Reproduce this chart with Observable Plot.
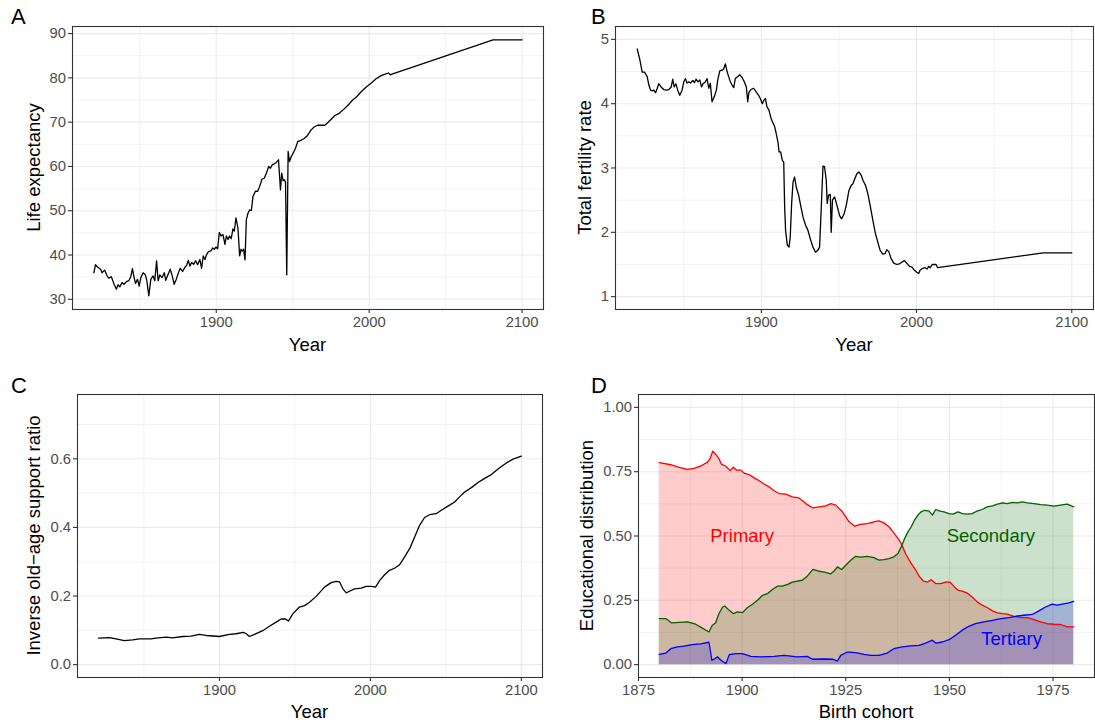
<!DOCTYPE html>
<html>
<head>
<meta charset="utf-8">
<script src="https://cdn.jsdelivr.net/npm/d3@7"></script>
<script src="https://cdn.jsdelivr.net/npm/@observablehq/plot@0.6"></script>
<style>
  body { margin: 0; background: white; }
  #root { position: relative; width: 1095px; height: 723px; overflow: hidden; background: white;
          font-family: "Liberation Sans", Arial, sans-serif; }
  #root svg.panel { position: absolute; }
  #overlay { position: absolute; left: 0; top: 0; pointer-events: none; }
</style>
</head>
<body>
<div id="root"></div>
<script>
// ---------- Panel A: life expectancy ----------
const leYears = [1820,1821,1822.7,1824.4,1825.3,1827,1828.6,1829.7,1831.4,1833.2,1834.7,1835.8,1836.9,1838.4,1839.7,1841.3,1842.8,1844.1,1845.2,1846.3,1847.2,1848.5,1849.6,1850.7,1852.2,1853.7,1854.6,1855.9,1857.2,1858.7,1859.8,1861,1862,1863.1,1864.6,1866,1867,1868.6,1869.9,1871.2,1872.5,1873.8,1875.1,1876.4,1878,1879.5,1880.8,1881.7,1882.8,1883.9,1885.2,1886.5,1887.8,1889.3,1890.4,1891.5,1892.6,1893.7,1894.8,1896.6,1897.7,1898.7,1899.8,1900.9,1902,1903.1,1904.4,1905.7,1906.6,1907.7,1908.7,1909.8,1910.9,1911.8,1912.9,1914.2,1915.3,1916.2,1917,1917.9,1918.8,1919.7,1920.8,1921.9,1923,1924,1925.6,1927.1,1928.4,1929.9,1931.5,1932.8,1934.3,1935.4,1936.7,1938,1939.3,1940.7,1942,1942.8,1943.7,1944.6,1945.3,1946.1,1947,1947.9,1949,1950.3,1951.8,1953.3,1955.3,1957.5,1959.7,1961.9,1964,1966.2,1968.4,1971,1973.2,1975,1977.6,1980.4,1983.7,1986.6,1989.2,1992,1994.6,1997.9,2001.2,2004.5,2007.8,2011,2012.6,2013.9,2015.4,2081,2100];
const leValues = [36.0,37.8,37.2,36.8,36.0,36.6,35.3,34.8,35.1,33.4,32.3,33.3,32.8,33.8,33.4,34.0,34.2,35.1,36.9,34.9,33.6,34.5,33.0,34.9,36.0,35.5,34.2,30.8,34.5,35.3,34.2,38.7,34.2,35.5,34.9,36.0,34.3,35.7,36.8,35.3,33.4,34.5,35.8,37.0,36.3,37.2,37.8,38.8,37.5,38.3,37.9,38.7,37.8,39.0,37.0,39.8,39.0,40.1,40.7,41.0,41.6,41.3,41.8,41.4,45.1,44.3,44.6,42.4,44.3,43.5,44.3,43.7,45.9,45.4,48.4,46.1,39.8,41.3,40.9,41.3,38.9,48.0,49.5,50.2,50.1,53.2,54.4,54.4,55.5,57.1,57.4,58.5,60.0,59.6,60.4,60.6,60.9,61.5,54.7,58.5,56.8,57.0,56.5,35.5,63.4,61.1,62.2,63.0,64.1,65.6,65.9,66.3,67.0,68.2,68.9,69.3,69.3,69.3,70.0,70.6,71.5,72.0,73.0,74.0,75.0,75.8,76.8,77.9,78.8,79.8,80.5,80.9,81.1,80.7,80.9,88.6,88.6];

// ---------- Panel B: total fertility rate ----------
const tfrYears = [1820,1821.7,1823.2,1824.7,1826.4,1827.5,1828.6,1829.7,1830.7,1831.8,1832.9,1833.9,1835.4,1837.1,1838.9,1840.4,1841.9,1842.9,1843.8,1844.9,1846.1,1847.4,1848.9,1850,1851.1,1852.1,1853.2,1854.3,1855.8,1856.9,1857.9,1859.2,1860.3,1861.4,1862.4,1863.9,1865,1866.1,1867.1,1868.2,1869.7,1871,1871.9,1873.2,1874.7,1875.7,1876.8,1877.9,1878.9,1880,1881.1,1882.2,1883.2,1884.7,1886,1887.5,1889,1890.3,1891.2,1892,1893.3,1895,1896.7,1898.2,1899.3,1900.6,1901.5,1902.6,1903.6,1904.9,1906,1907.1,1908.6,1909.6,1910.7,1911.4,1912.4,1913.5,1914.4,1915,1915.6,1916.7,1917.8,1918.6,1919.5,1920.4,1921.4,1922.5,1924,1925.3,1926.8,1928.5,1930,1931.5,1933.2,1934.9,1936.4,1937.5,1938.6,1939.7,1940.7,1941.8,1942.4,1943.3,1944.4,1945,1945.8,1947.2,1948.7,1950.4,1951.7,1953.2,1954.7,1956.4,1957.9,1958.9,1960,1961.5,1962.8,1964.3,1965.4,1967.1,1968.6,1970.3,1971.8,1973.5,1975,1976.5,1978.2,1979.7,1980.8,1982.1,1983.6,1985.3,1987.2,1989,1990.7,1992.2,1993.7,1995.4,1997.1,1998.6,2000.1,2001.4,2002.2,2004,2005.5,2006.8,2007.8,2008.9,2010,2011.4,2012.5,2013.6,2081.6,2100];
const tfrValues = [4.85,4.68,4.49,4.49,4.42,4.29,4.21,4.20,4.21,4.17,4.24,4.31,4.26,4.22,4.21,4.22,4.26,4.38,4.26,4.31,4.21,4.13,4.21,4.34,4.39,4.32,4.34,4.32,4.36,4.33,4.38,4.34,4.37,4.26,4.31,4.34,4.39,4.24,4.32,4.03,4.11,4.21,4.37,4.51,4.52,4.54,4.62,4.50,4.42,4.34,4.29,4.25,4.39,4.42,4.45,4.41,4.34,4.26,4.03,4.18,4.22,4.24,4.18,4.13,4.08,4.00,4.05,4.08,3.95,3.90,3.79,3.72,3.64,3.53,3.40,3.25,3.25,3.12,3.09,2.39,2.03,1.80,1.77,1.93,2.45,2.78,2.86,2.70,2.58,2.42,2.24,2.11,2.03,1.90,1.77,1.69,1.72,1.77,2.39,3.03,3.02,2.81,2.45,2.58,2.59,2.00,2.50,2.55,2.42,2.26,2.21,2.28,2.42,2.65,2.73,2.75,2.82,2.91,2.94,2.89,2.81,2.73,2.60,2.39,2.19,1.98,1.85,1.72,1.66,1.67,1.73,1.70,1.59,1.52,1.50,1.51,1.54,1.56,1.52,1.47,1.46,1.41,1.38,1.36,1.41,1.44,1.45,1.43,1.47,1.45,1.50,1.50,1.50,1.45,1.68,1.68];

// ---------- Panel C: inverse old-age support ratio ----------
const oasYears = [1820,1827.1,1831.5,1837,1842.5,1847,1854.7,1858,1864.6,1869,1875.7,1881.2,1886.7,1891.2,1900,1906.6,1911,1915.9,1917.7,1919.9,1923.2,1928.7,1933.1,1937.6,1940.9,1943.8,1945.7,1948.6,1953,1956.4,1959.7,1964.1,1969.6,1974,1977.3,1979.6,1981.8,1984,1986.2,1989.5,1993.9,1997.2,2000.6,2003.4,2006.1,2009.4,2012.7,2016,2019.3,2022.7,2026,2029.3,2032.6,2035.9,2039.2,2043.6,2047,2051.4,2055.8,2059.1,2062.4,2066.9,2071.3,2075.7,2080.1,2085.6,2090.1,2094.5,2100];
const oasValues = [0.077,0.079,0.075,0.070,0.072,0.075,0.075,0.077,0.080,0.078,0.082,0.083,0.088,0.085,0.082,0.088,0.090,0.094,0.090,0.082,0.088,0.099,0.112,0.124,0.133,0.133,0.127,0.148,0.168,0.172,0.182,0.199,0.226,0.239,0.243,0.241,0.221,0.209,0.214,0.221,0.223,0.228,0.228,0.226,0.245,0.262,0.275,0.281,0.291,0.314,0.338,0.372,0.406,0.429,0.437,0.440,0.450,0.462,0.474,0.489,0.503,0.516,0.531,0.543,0.554,0.574,0.588,0.599,0.608];

// ---------- Panel D: educational distribution by birth cohort ----------
const primYears = [1880,1882.8,1884.8,1886.8,1888.4,1890,1891.6,1892.3,1892.9,1893.6,1894.4,1895,1896,1897.1,1897.9,1898.7,1899.7,1900.6,1901.7,1902.9,1904.1,1905.3,1906.5,1907.7,1908.9,1910.5,1912.1,1913.7,1915.4,1917,1918.6,1920.2,1921.4,1922.6,1924.2,1925.8,1927.2,1928.5,1930.2,1931.8,1933,1934.2,1935.4,1936.6,1937.8,1938.6,1939.4,1940.3,1941.1,1941.9,1942.7,1943.7,1944.7,1945.6,1946.7,1947.9,1949.1,1950.1,1951.1,1952.1,1953.1,1954.3,1955.5,1956.7,1957.9,1959.1,1960.4,1961.6,1962.8,1964,1965.6,1967.2,1968.8,1970.4,1972,1973.6,1975.2,1976.8,1978.4,1980];
const primValues = [0.785,0.777,0.767,0.759,0.763,0.772,0.786,0.801,0.830,0.818,0.801,0.779,0.772,0.754,0.767,0.756,0.756,0.743,0.739,0.726,0.715,0.702,0.691,0.676,0.665,0.663,0.652,0.648,0.626,0.609,0.613,0.617,0.626,0.620,0.594,0.555,0.538,0.545,0.548,0.555,0.559,0.551,0.536,0.512,0.486,0.464,0.432,0.406,0.386,0.367,0.344,0.325,0.321,0.330,0.315,0.315,0.321,0.321,0.304,0.289,0.286,0.278,0.263,0.244,0.231,0.222,0.209,0.201,0.198,0.196,0.188,0.183,0.183,0.175,0.166,0.159,0.157,0.156,0.147,0.147];
const secYears = [1880,1881.6,1883,1884.8,1886.8,1888.8,1890.4,1892,1892.8,1893.6,1894.4,1895.3,1895.8,1896.9,1897.9,1898.9,1900.1,1901.3,1902.5,1903.7,1904.9,1906.1,1907.3,1908.5,1909.7,1911,1912.1,1913.3,1914.5,1915.7,1917.1,1918.3,1919.8,1921.4,1922.2,1923,1924,1925,1926.2,1927.4,1928.6,1930.2,1931.8,1933,1934.2,1935.4,1936.6,1937.6,1938.4,1939.2,1940,1940.8,1941.6,1942.4,1943.2,1944,1945.1,1945.9,1946.7,1947.7,1948.7,1949.9,1950.9,1952.1,1953.1,1954.3,1955.5,1956.7,1957.9,1959.1,1960.4,1961.6,1962.8,1964,1965.2,1966.4,1967.6,1968.8,1970.4,1972,1973.6,1975.2,1976.8,1978.4,1980];
const secValues = [0.179,0.179,0.162,0.164,0.166,0.157,0.142,0.127,0.153,0.162,0.198,0.224,0.228,0.211,0.198,0.205,0.202,0.222,0.235,0.250,0.269,0.276,0.292,0.305,0.305,0.312,0.321,0.325,0.328,0.344,0.370,0.364,0.360,0.353,0.364,0.380,0.370,0.386,0.406,0.421,0.418,0.421,0.416,0.406,0.408,0.412,0.419,0.432,0.458,0.490,0.516,0.536,0.562,0.581,0.594,0.600,0.597,0.581,0.603,0.597,0.594,0.587,0.585,0.594,0.587,0.585,0.587,0.597,0.603,0.613,0.617,0.624,0.629,0.626,0.631,0.629,0.633,0.629,0.626,0.622,0.620,0.616,0.620,0.624,0.613];
const terYears = [1880,1881.6,1882.8,1884.4,1886,1888,1890,1892,1892.7,1893.4,1894.1,1894.9,1896.1,1896.9,1898.5,1900.1,1902.1,1904.5,1907.7,1910.1,1913.3,1915.7,1917,1919.8,1921.8,1923,1923.8,1925.4,1927.4,1929.4,1931,1933,1935,1936.6,1938.6,1940.7,1942.7,1944.3,1945.9,1946.7,1948.3,1949.9,1951.5,1953.1,1954.7,1956.3,1958.3,1960.4,1962.4,1964.4,1966,1968,1970,1971.6,1973.2,1974.8,1976,1977.2,1978.8,1980];
const terValues = [0.040,0.045,0.062,0.069,0.072,0.078,0.081,0.087,0.017,0.023,0.030,0.017,0.004,0.039,0.043,0.043,0.032,0.030,0.032,0.036,0.030,0.032,0.021,0.022,0.021,0.014,0.036,0.049,0.047,0.040,0.036,0.036,0.045,0.062,0.069,0.073,0.075,0.084,0.095,0.084,0.088,0.097,0.114,0.134,0.149,0.159,0.166,0.172,0.179,0.183,0.188,0.192,0.195,0.209,0.224,0.235,0.231,0.235,0.240,0.246];

const eduNames = ["Primary", "Secondary", "Tertiary"];
const eduColors = ["#FF0000", "#006400", "#0000FF"];
const eduLabelX = [1900, 1960, 1965];
const eduLabelY = [0.5, 0.5, 0.1];

// ---------- Ticks & titles ----------
const yearMajor = [1900, 2000, 2100];
const yearMinor = [1850, 1950, 2050];
const leMajor = [30, 40, 50, 60, 70, 80, 90];
const leMinor = [35, 45, 55, 65, 75, 85];
const tfrMajor = [1, 2, 3, 4, 5];
const tfrMinor = [1.5, 2.5, 3.5, 4.5];
const oasMajor = [0, 0.2, 0.4, 0.6];
const oasMinor = [0.1, 0.3, 0.5, 0.7];
const cohortMajor = [1875, 1900, 1925, 1950, 1975];
const cohortMinor = [1887.5, 1912.5, 1937.5, 1962.5];
const eduMajor = [0, 0.25, 0.5, 0.75, 1];
const eduMinor = [0.125, 0.375, 0.625, 0.875];

const panelTags = ["A", "B", "C", "D"];
const xTitles = ["Year", "Year", "Year", "Birth cohort"];
const yTitles = ["Life expectancy", "Total fertility rate", "Inverse old\u2212age support ratio", "Educational distribution"];

// ---------- Drawing ----------
const FONT = "'Liberation Sans', Arial, sans-serif";
const TICK_FS = 14.8, TITLE_FS = 18.5, TAG_FS = 22;
const root = document.getElementById("root");

function panel(cfg) {
  const marks = [
    Plot.gridX(cfg.xMinor, {stroke: "#ebebeb", strokeOpacity: 1, strokeWidth: 0.6}),
    Plot.gridY(cfg.yMinor, {stroke: "#ebebeb", strokeOpacity: 1, strokeWidth: 0.6}),
    Plot.gridX(cfg.xMajor, {stroke: "#ebebeb", strokeOpacity: 1, strokeWidth: 1.1}),
    Plot.gridY(cfg.yMajor, {stroke: "#ebebeb", strokeOpacity: 1, strokeWidth: 1.1}),
    ...cfg.marks,
    Plot.frame({stroke: "#333333", strokeWidth: 1.1}),
    Plot.axisX(cfg.xMajor, {tickSize: 4, tickPadding: 2.5, stroke: "#333333", strokeWidth: 1.1,
      fill: "#4d4d4d", fontSize: TICK_FS, label: null, tickFormat: cfg.xFormat || "d"}),
    Plot.axisY(cfg.yMajor, {tickSize: 4, tickPadding: 2.5, stroke: "#333333", strokeWidth: 1.1,
      fill: "#4d4d4d", fontSize: TICK_FS, label: null, tickFormat: cfg.yFormat})
  ];
  const svg = Plot.plot({
    width: cfg.width, height: cfg.height,
    marginLeft: cfg.m[0], marginRight: cfg.m[1], marginTop: cfg.m[2], marginBottom: cfg.m[3],
    x: {domain: cfg.xDomain, axis: null},
    y: {domain: cfg.yDomain, axis: null},
    style: {fontFamily: FONT, background: "white", overflow: "visible"},
    marks
  });
  svg.classList.add("panel");
  svg.style.left = cfg.left + "px";
  svg.style.top = cfg.top + "px";
  root.appendChild(svg);
}

const LINE = {stroke: "black", strokeWidth: 1.3, curve: "linear"};

panel({
  left: 0, top: 0, width: 548, height: 362, m: [72, 5, 26, 53],
  xDomain: [1806, 2114], yDomain: [27.7, 91.6],
  xMajor: yearMajor, xMinor: yearMinor, yMajor: leMajor, yMinor: leMinor, yFormat: "d",
  marks: [Plot.line(leYears, {x: leYears, y: leValues, ...LINE})]
});
panel({
  left: 548, top: 0, width: 547, height: 362, m: [67, 2, 26, 53],
  xDomain: [1806, 2114], yDomain: [0.8, 5.2],
  xMajor: yearMajor, xMinor: yearMinor, yMajor: tfrMajor, yMinor: tfrMinor, yFormat: "d",
  marks: [Plot.line(tfrYears, {x: tfrYears, y: tfrValues, ...LINE})]
});
panel({
  left: 0, top: 362, width: 548, height: 361, m: [77, 6, 32, 46],
  xDomain: [1806, 2114], yDomain: [-0.0375, 0.7875],
  xMajor: yearMajor, xMinor: yearMinor, yMajor: oasMajor, yMinor: oasMinor, yFormat: ".1f",
  marks: [Plot.line(oasYears, {x: oasYears, y: oasValues, ...LINE})]
});

const eduX = [primYears, secYears, terYears];
const eduY = [primValues, secValues, terValues];
const eduMarks = [];
for (let i = 0; i < 3; i++) {
  eduMarks.push(Plot.areaY(eduX[i], {x: eduX[i], y: eduY[i], fill: eduColors[i], fillOpacity: 0.2}));
}
for (let i = 0; i < 3; i++) {
  eduMarks.push(Plot.line(eduX[i], {x: eduX[i], y: eduY[i], stroke: eduColors[i], strokeWidth: 1.3}));
}
for (let i = 0; i < 3; i++) {
  eduMarks.push(Plot.text([eduNames[i]], {x: [eduLabelX[i]], y: [eduLabelY[i]], text: d => d,
    fill: eduColors[i], fontSize: TITLE_FS, fontFamily: FONT}));
}
panel({
  left: 548, top: 362, width: 547, height: 361, m: [90, 1, 32, 46],
  xDomain: [1875, 1985], yDomain: [-0.05, 1.05],
  xMajor: cohortMajor, xMinor: cohortMinor, yMajor: eduMajor, yMinor: eduMinor, yFormat: ".2f",
  marks: eduMarks
});

// ---------- Titles / tags overlay ----------
const ov = d3.select(root).append("svg").attr("id", "overlay")
  .attr("width", 1095).attr("height", 723)
  .style("font-family", FONT);

const tagPos = [[11, 24], [591, 24], [11, 393], [591, 393]];
panelTags.forEach((t, i) => {
  ov.append("text").attr("x", tagPos[i][0]).attr("y", tagPos[i][1])
    .attr("font-size", TAG_FS).attr("fill", "black").text(t);
});
const xTitlePos = [[307.5, 351], [854, 351], [309.5, 718], [866, 718]];
xTitles.forEach((t, i) => {
  ov.append("text").attr("x", xTitlePos[i][0]).attr("y", xTitlePos[i][1])
    .attr("text-anchor", "middle").attr("font-size", TITLE_FS).attr("fill", "black").text(t);
});
const yTitlePos = [[39.5, 167.5], [590.5, 167.5], [40, 535.5], [592.5, 535.5]];
yTitles.forEach((t, i) => {
  ov.append("text")
    .attr("transform", `translate(${yTitlePos[i][0]},${yTitlePos[i][1]}) rotate(-90)`)
    .attr("text-anchor", "middle").attr("font-size", TITLE_FS).attr("fill", "black").text(t);
});
</script>
</body>
</html>
